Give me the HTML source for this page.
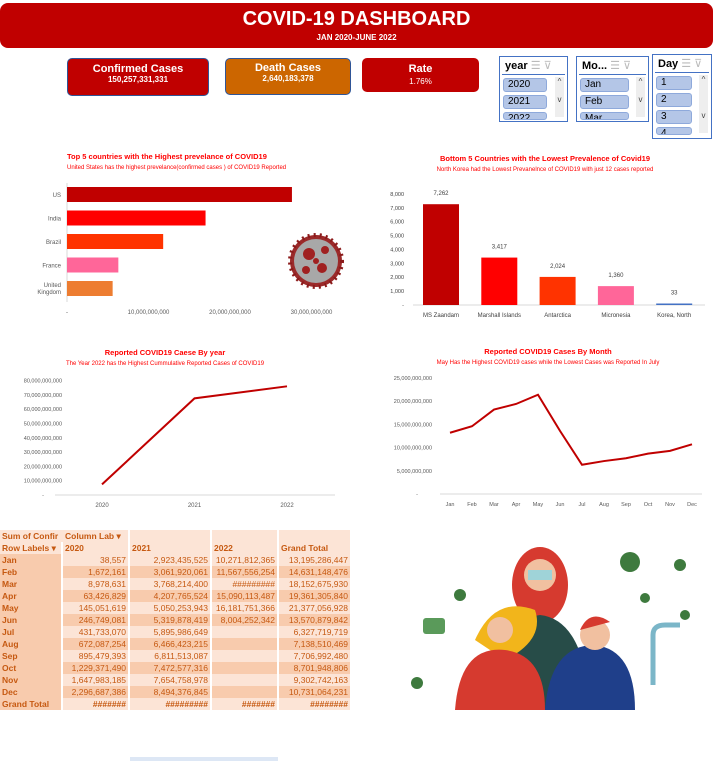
<!DOCTYPE html>
<html><head><meta charset="utf-8">
<style>
body{margin:0;width:714px;height:761px;background:#fff;position:relative;overflow:hidden;font-family:"Liberation Sans",sans-serif}
.abs{position:absolute}
.card{position:absolute;color:#fff;text-align:center;border-radius:5px;font-weight:bold}
.card .t{font-size:11px;margin-top:4px}
.card .v{font-size:8px}
.slicer{position:absolute;border:1.5px solid #4472c4;background:#fff;font-size:10px}
.slicer .h{font-weight:bold;font-size:11px;padding:2px 3px;border-bottom:1px solid #4472c4;margin:0 2px;color:#000}
.item{background:#b4c6e7;border:1px solid #8ea9db;border-radius:3px;height:12px;font-size:10px;padding-left:4px;margin:3px 0 0 3px;line-height:12px}
.sb{position:absolute;right:3px;top:20px;width:9px;background:#eee;font-size:8px;text-align:center;color:#444}
table{border-collapse:separate;border-spacing:0;font-size:8.5px;font-weight:bold;color:#c65911;font-family:"Liberation Sans",sans-serif;table-layout:fixed;width:350px}
td{height:12px;padding:0 2px;white-space:nowrap;line-height:12px;overflow:hidden;box-sizing:border-box}
svg text{font-family:"Liberation Sans",sans-serif}
</style></head><body>
<div class="abs" style="left:0;top:3px;width:713px;height:45px;background:#c00000;border-radius:8px;color:#fff;text-align:center">
 <div style="font-size:20px;font-weight:bold;margin-top:5px">COVID-19 DASHBOARD</div>
 <div style="font-size:8px;font-weight:bold;margin-top:2px">JAN 2020-JUNE 2022</div>
</div>
<div class="card" style="left:67px;top:58px;width:140px;height:36px;background:#c00000;border:1px solid #2f5597"><div class="t">Confirmed Cases</div><div class="v">150,257,331,331</div></div>
<div class="card" style="left:225px;top:58px;width:124px;height:35px;background:#cc6600;border:1px solid #2f5597"><div class="t" style="margin-top:3px">Death Cases</div><div class="v">2,640,183,378</div></div>
<div class="card" style="left:362px;top:58px;width:117px;height:34px;background:#c00000"><div class="t" style="margin-top:5px">Rate</div><div class="v" style="font-weight:normal;margin-top:2px">1.76%</div></div>

<div class="slicer" style="left:499px;top:56px;width:67px;height:64px">
 <div class="h">year <span style="color:#bbb;font-weight:normal">☰ ⊽</span></div>
 <div class="item" style="width:38px">2020</div>
 <div class="item" style="width:38px">2021</div>
 <div class="item" style="width:38px;height:6px;overflow:hidden">2022</div>
 <div class="sb" style="height:40px">^<br><br>v</div>
</div>
<div class="slicer" style="left:576px;top:56px;width:71px;height:64px">
 <div class="h">Mo... <span style="color:#bbb;font-weight:normal">☰ ⊽</span></div>
 <div class="item" style="width:43px">Jan</div>
 <div class="item" style="width:43px">Feb</div>
 <div class="item" style="width:43px;height:6px;overflow:hidden">Mar</div>
 <div class="sb" style="height:40px">^<br><br>v</div>
</div>
<div class="slicer" style="left:652px;top:54px;width:58px;height:83px">
 <div class="h">Day <span style="color:#bbb;font-weight:normal">☰ ⊽</span></div>
 <div class="item" style="width:30px">1</div>
 <div class="item" style="width:30px">2</div>
 <div class="item" style="width:30px">3</div>
 <div class="item" style="width:30px;height:6px;overflow:hidden">4</div>
 <div class="sb" style="height:58px">^<br><br><br><br>v</div>
</div>

<svg id="charts" class="abs" style="left:0;top:0" width="714" height="525">
 <text x="67" y="159" font-size="7.5" font-weight="bold" fill="#ff0000">Top 5 countries with the Highest prevelance of COVID19</text>
 <text x="67" y="169" font-size="6" fill="#ff0000">United States has the highest prevelance(confirmed cases ) of COVID19  Reported</text>
 <text x="545" y="161" font-size="7.5" font-weight="bold" fill="#ff0000" text-anchor="middle">Bottom 5 Countries with the Lowest Prevalence of Covid19</text>
 <text x="545" y="171" font-size="6" fill="#ff0000" text-anchor="middle">North Korea had the Lowest Prevanelnce of COVID19 with just 12 cases reported</text>
 <text x="165" y="355" font-size="7.5" font-weight="bold" fill="#ff0000" text-anchor="middle">Reported COVID19 Caese By year</text>
 <text x="165" y="365" font-size="6" fill="#ff0000" text-anchor="middle">The Year 2022 has the Highest Cummulative Reported Cases of COVID19</text>
 <text x="548" y="354" font-size="7.5" font-weight="bold" fill="#ff0000" text-anchor="middle">Reported COVID19 Cases By Month</text>
 <text x="548" y="364" font-size="6" fill="#ff0000" text-anchor="middle">May Has the Highest COVID19 cases while the Lowest Cases was Reported In July</text>
 <g>
  <circle cx="316" cy="261" r="26" fill="#9b2a2a" stroke="#8b1a1a" stroke-width="4" stroke-dasharray="2 4"/>
  <circle cx="316" cy="261" r="22" fill="#a8a8a8"/>
  <circle cx="309" cy="254" r="6" fill="#a02020"/><circle cx="322" cy="268" r="5" fill="#a02020"/>
  <circle cx="325" cy="250" r="4" fill="#a02020"/><circle cx="306" cy="270" r="4" fill="#a02020"/>
  <circle cx="316" cy="261" r="3" fill="#a02020"/>
 </g>
</svg>

<div class="abs" style="left:0;top:530px">
<table id="pivot"><colgroup><col style="width:63px"><col style="width:67px"><col style="width:82px"><col style="width:67px"><col style="width:71px"></colgroup></table>
</div>

<svg class="abs" style="left:395px;top:540px" width="310" height="170">
 <ellipse cx="145" cy="45" rx="28" ry="38" fill="#d63a2f"/>
 <circle cx="145" cy="35" r="16" fill="#f1c0a0"/>
 <rect x="133" y="30" width="24" height="10" fill="#9fd3d8"/>
 <path d="M100 170 Q105 80 145 75 Q190 80 195 170Z" fill="#274c48"/>
 <path d="M80 100 Q100 55 140 70 Q150 100 110 120Z" fill="#f2b51b"/>
 <circle cx="105" cy="90" r="13" fill="#f1c0a0"/>
 <path d="M60 170 Q65 105 110 110 Q150 115 150 170Z" fill="#d63a2f"/>
 <rect x="28" y="78" width="22" height="16" rx="3" fill="#5a9a5a"/>
 <path d="M150 170 Q155 105 200 105 Q240 110 240 170Z" fill="#1f3f8a"/>
 <circle cx="200" cy="95" r="15" fill="#f1c0a0"/>
 <path d="M185 90 Q195 68 215 82 Z" fill="#d63a2f"/>
 <path d="M258 145 L258 95 Q258 85 270 85 L285 85" stroke="#7bb6c8" stroke-width="5" fill="none"/>
 <circle cx="235" cy="22" r="10" fill="#3e7a3e"/><circle cx="285" cy="25" r="6" fill="#3e7a3e"/>
 <circle cx="65" cy="55" r="6" fill="#3e7a3e"/><circle cx="22" cy="143" r="6" fill="#3e7a3e"/>
 <circle cx="290" cy="75" r="5" fill="#3e7a3e"/><circle cx="250" cy="58" r="5" fill="#3e7a3e"/>
</svg>
<div class="abs" style="left:130px;top:757px;width:148px;height:4px;background:#dde7f5"></div>

<script>
const NS="http://www.w3.org/2000/svg";
const svg=document.getElementById('charts');
function mk(tag,attrs,txt){const e=document.createElementNS(NS,tag);for(const k in attrs)e.setAttribute(k,attrs[k]);if(txt!=null)e.textContent=txt;svg.appendChild(e);return e;}

// Top 5 (billions)
const topCountries=["US","India","Brazil","France","United Kingdom"];
const topValues=[27.6,17.0,11.8,6.3,5.6];
const topColors=["#c00000","#ff0000","#ff3300","#ff6699","#ed7d31"];
const topTicks=[0,10,20,30];
const topTickLabels=["-","10,000,000,000","20,000,000,000","30,000,000,000"];
// Bottom 5
const botCountries=["MS Zaandam","Marshall Islands","Antarctica","Micronesia","Korea, North"];
const botValues=[7262,3417,2024,1360,33];
const botColors=["#c00000","#ff0000","#ff3300","#ff6699","#4472c4"];
const botTicks=[0,1000,2000,3000,4000,5000,6000,7000,8000];
// By year (billions)
const years=["2020","2021","2022"];
const yearValues=[7.4,67.6,76.0];
const yearTicks=[0,10,20,30,40,50,60,70,80];
// By month (billions)
const months=["Jan","Feb","Mar","Apr","May","Jun","Jul","Aug","Sep","Oct","Nov","Dec"];
const monthValues=[13.2,14.6,18.2,19.4,21.4,13.6,6.3,7.1,7.7,8.7,9.3,10.7];
const monthTicks=[0,5,10,15,20,25];

function fmt(n){return n.toLocaleString('en-US');}

// Chart 1
(function(){
 const x=v=>67+v*8.15, y0=187, step=23.5, bh=15;
 let e=mk('line',{x1:67,y1:183,x2:67,y2:302,stroke:'#d9d9d9'});
 topCountries.forEach((c,i)=>{
  const y=y0+i*step;
  e=mk('rect',{x:67,y:y,width:x(topValues[i])-67,height:bh,fill:topColors[i]});
  
  
  if(c==="United Kingdom"){
   mk('text',{x:61,y:y+6,'font-size':6,'text-anchor':'end',fill:'#595959'},'United');
   mk('text',{x:61,y:y+13,'font-size':6,'text-anchor':'end',fill:'#595959'},'Kingdom');
  } else mk('text',{x:61,y:y+10,'font-size':6,'text-anchor':'end',fill:'#595959'},c);
 });
 topTicks.forEach((t,i)=>{mk('text',{x:x(t),y:314,'font-size':6,'text-anchor':'middle',fill:'#595959'},topTickLabels[i]);});
})();

// Chart 2
(function(){
 const y=v=>305-v*0.01388, cx=i=>441+i*58.3;
 mk('line',{x1:413,y1:305,x2:705,y2:305,stroke:'#d9d9d9'});
 botTicks.forEach(t=>mk('text',{x:404,y:y(t)+2,'font-size':5.5,'text-anchor':'end',fill:'#404040'},t?fmt(t):'-'));
 botCountries.forEach((c,i)=>{
  const h=Math.max(305-y(botValues[i]),1.5);
  let e=mk('rect',{x:cx(i)-18,y:305-h,width:36,height:h,fill:botColors[i]});
  
  
  mk('text',{x:cx(i),y:305-h-9,'font-size':6,'text-anchor':'middle',fill:'#404040'},fmt(botValues[i]));
  mk('text',{x:cx(i),y:317,'font-size':6,'text-anchor':'middle',fill:'#404040'},c);
 });
})();

// Chart 3
(function(){
 const y=v=>495-v*1.43, x=i=>102+i*92.5;
 mk('line',{x1:55,y1:495,x2:335,y2:495,stroke:'#d9d9d9'});
 yearTicks.forEach(t=>mk('text',{x:t?62:44,y:y(t)+2,'font-size':5.5,'text-anchor':'end',fill:'#595959'},t?fmt(t*1e9):'-'));
 years.forEach((c,i)=>mk('text',{x:x(i),y:507,'font-size':6,'text-anchor':'middle',fill:'#595959'},c));
 let e=mk('polyline',{points:yearValues.map((v,i)=>x(i)+','+y(v)).join(' '),fill:'none',stroke:'#c00000','stroke-width':2});
 
 
})();

// Chart 4
(function(){
 const y=v=>494-v*4.64, x=i=>450+i*22;
 mk('line',{x1:440,y1:494,x2:702,y2:494,stroke:'#d9d9d9'});
 monthTicks.forEach(t=>mk('text',{x:t?432:418,y:y(t)+2,'font-size':5.5,'text-anchor':'end',fill:'#595959'},t?fmt(t*1e9):'-'));
 months.forEach((c,i)=>mk('text',{x:x(i),y:506,'font-size':5.5,'text-anchor':'middle',fill:'#595959'},c));
 let e=mk('polyline',{points:monthValues.map((v,i)=>x(i)+','+y(v)).join(' '),fill:'none',stroke:'#c00000','stroke-width':2});
 
 
})();

// Pivot
const pivotRows=["Jan","Feb","Mar","Apr","May","Jun","Jul","Aug","Sep","Oct","Nov","Dec"];
const p2020=["38,557","1,672,161","8,978,631","63,426,829","145,051,619","246,749,081","431,733,070","672,087,254","895,479,393","1,229,371,490","1,647,983,185","2,296,687,386"];
const p2021=["2,923,435,525","3,061,920,061","3,768,214,400","4,207,765,524","5,050,253,943","5,319,878,419","5,895,986,649","6,466,423,215","6,811,513,087","7,472,577,316","7,654,758,978","8,494,376,845"];
const p2022=["10,271,812,365","11,567,556,254","#########","15,090,113,487","16,181,751,366","8,004,252,342","","","","","",""];
const pTotal=["13,195,286,447","14,631,148,476","18,152,675,930","19,361,305,840","21,377,056,928","13,570,879,842","6,327,719,719","7,138,510,469","7,706,992,480","8,701,948,806","9,302,742,163","10,731,064,231"];
(function(){
 const t=document.getElementById('pivot');
 const L='#fce4d6',D='#f8cbad';
 let h='<tr><td style="background:'+L+'">Sum of Confir</td><td style="background:'+L+';border-right:2px solid #fff">Column Lab ▾</td><td style="background:'+L+';border-right:2px solid #fff"></td><td style="background:'+L+';border-right:2px solid #fff"></td><td style="background:'+L+'"></td></tr>';
 h+='<tr><td style="background:'+L+';border-right:2px solid #fff">Row Labels ▾</td><td style="background:'+L+';border-right:2px solid #fff">2020</td><td style="background:'+L+';border-right:2px solid #fff">2021</td><td style="background:'+L+';border-right:2px solid #fff">2022</td><td style="background:'+L+'">Grand Total</td></tr>';
 pivotRows.forEach((r,i)=>{const bg=i%2?D:L;
  h+='<tr><td style="background:'+D+';border-right:2px solid #fff">'+r+'</td>'+[p2020[i],p2021[i],p2022[i],pTotal[i]].map((v,j)=>'<td style="background:'+bg+';text-align:right;font-weight:normal;'+(j<3?'border-right:2px solid #fff':'')+'">'+v+'</td>').join('')+'</tr>';});
 h+='<tr><td style="background:'+D+';border-right:2px solid #fff">Grand Total</td><td style="background:'+L+';text-align:right;border-right:2px solid #fff">#######</td><td style="background:'+L+';text-align:right;border-right:2px solid #fff">#########</td><td style="background:'+L+';text-align:right;border-right:2px solid #fff">#######</td><td style="background:'+L+';text-align:right">########</td></tr>';
 t.insertAdjacentHTML('beforeend',h);
})();
</script>
</body></html>
